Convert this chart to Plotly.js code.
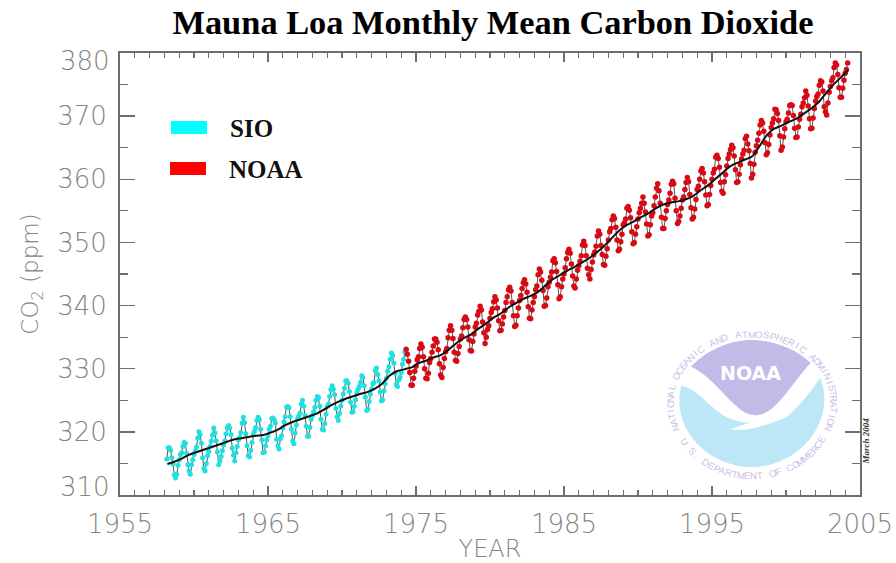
<!DOCTYPE html>
<html><head><meta charset="utf-8">
<script src="https://cdn.plot.ly/plotly-3.0.1.min.js"></script>
<style>html,body{margin:0;padding:0;background:#fff}</style></head>
<body><div id="chart" style="width:896px;height:563px"></div>
<script>
// Monthly mean CO2 (ppm)
const sioStart = 1958 + 2/12;   // March 1958
const sioCo2 = [315.7,317.5,317.5,317.1,315.9,314.9,313.2,312.7,313.3,314.7,
315.6,316.4,316.7,317.7,318.3,318.2,316.6,314.8,313.8,313.3,314.8,315.6,
316.4,317.0,317.6,319.0,320.0,319.6,318.2,315.9,314.2,313.8,315.0,316.2,
316.9,317.7,318.5,319.5,320.6,319.8,318.6,316.8,314.8,315.4,316.1,317.0,
317.9,318.6,319.7,320.6,321.0,320.6,319.6,317.4,316.3,315.4,316.7,317.7,
318.7,319.1,319.9,321.4,322.3,321.5,319.7,317.8,316.2,316.0,317.1,318.3,
319.6,320.1,320.7,321.8,322.3,321.9,320.4,318.7,316.7,316.8,317.8,318.7,
319.4,320.4,320.9,322.1,322.2,321.9,321.4,318.8,317.8,317.3,318.9,319.4,
320.6,321.6,322.4,323.9,324.0,323.8,322.4,320.4,318.6,318.1,319.8,321.1,
322.1,322.5,323.0,324.4,325.0,324.1,322.6,320.9,319.3,319.3,320.7,322.0,
322.6,323.2,323.9,325.0,325.6,325.4,324.1,322.0,320.4,320.3,321.3,322.8,
324.0,324.4,325.6,326.7,327.3,326.8,325.9,323.7,322.4,321.8,322.9,324.1,
325.0,326.0,326.9,328.1,328.1,327.7,326.4,324.7,323.1,323.2,324.0,325.1,
326.2,326.7,327.2,327.8,328.9,328.6,327.3,325.5,323.4,323.6,324.8,326.0,
326.8,327.6,327.8,329.7,330.1,329.1,328.1,326.3,324.9,325.1,326.5,327.6,
328.5,329.6,330.3,331.5,332.5,332.1,330.9,329.3,327.5,327.2,328.2,328.6,
329.4,330.7,331.5,332.6,332.9];
const noaaStart = 1974 + 4/12;  // May 1974
const noaaCo2 = [333.1,332.3,331.2,329.4,327.4,327.4,328.5,329.6,
330.4,331.4,331.9,333.2,333.9,333.4,331.9,330.0,328.5,328.4,329.3,331.0,
331.6,332.6,333.6,334.7,334.7,334.2,333.0,330.8,329.0,328.6,330.2,331.6,
332.7,333.2,334.9,336.1,336.8,336.1,334.8,332.6,331.3,331.2,332.4,333.5,
334.7,335.2,336.5,337.8,338.2,337.8,336.6,334.6,332.9,332.8,334.3,335.5,
336.6,337.2,338.5,339.1,339.9,339.3,337.4,335.7,334.0,335.0,336.2,336.8,
338.0,338.9,339.5,340.6,341.4,340.9,339.6,337.6,336.0,336.1,337.1,338.2,
339.2,340.5,341.4,342.5,342.9,342.3,340.5,338.4,336.7,336.9,338.4,339.6,
340.8,341.6,342.7,343.6,344.1,343.4,342.1,339.8,338.0,337.9,339.3,340.5,
341.4,342.5,343.1,344.9,345.8,345.3,344.0,342.4,339.9,340.0,341.2,343.0,
343.7,344.5,345.3,347.1,347.4,346.8,345.4,343.3,341.1,341.4,343.0,344.2,
345.0,346.0,347.4,348.4,348.9,348.3,346.6,344.7,343.1,342.8,344.2,345.6,
346.3,347.0,347.9,349.6,350.2,349.5,347.9,345.9,344.9,344.2,345.7,346.9,
348.0,348.5,349.4,351.0,351.8,351.3,349.5,348.1,346.5,346.4,347.8,349.0,
350.4,351.7,352.2,353.6,354.2,353.8,352.4,350.4,348.7,348.9,350.1,351.3,
352.8,353.1,353.7,355.4,355.7,355.1,353.9,351.7,349.8,350.0,351.3,352.5,
353.7,354.7,355.4,356.2,357.2,356.2,354.8,352.9,351.0,351.2,352.8,354.2,
354.7,355.8,357.2,358.6,359.3,358.2,356.2,354.0,352.2,352.2,353.8,355.0,
356.0,356.7,357.8,359.2,359.7,359.3,357.0,355.0,353.0,353.3,354.2,355.4,
356.7,357.2,358.4,359.5,360.3,359.6,357.6,355.5,353.7,354.0,355.3,356.8,
358.4,358.9,360.0,361.3,361.7,361.0,359.6,357.5,355.8,356.0,357.6,359.0,
360.0,361.0,361.6,363.5,363.8,363.3,361.9,359.5,358.1,357.8,359.6,360.7,
362.1,363.3,364.0,364.7,365.4,365.0,363.7,361.5,359.5,359.6,360.8,362.3,
363.2,364.0,364.6,366.4,366.8,365.6,364.5,362.5,360.2,360.8,362.4,364.3,
365.3,366.2,367.3,368.6,369.3,368.9,367.6,365.8,363.9,364.2,365.5,367.0,
368.2,368.9,369.6,371.1,371.0,370.4,369.3,366.9,364.6,365.1,366.7,368.0,
369.1,369.5,370.5,371.7,371.8,371.7,370.1,368.1,366.6,366.7,368.3,369.5,
370.3,371.5,372.1,372.9,374.0,373.3,371.6,369.6,368.0,368.1,369.7,371.2,
372.4,373.1,373.5,374.9,375.6,375.4,374.0,371.5,370.7,370.2,372.1,373.8,
374.7,375.6,376.1,377.7,378.4,378.1,376.6,374.5,373.0,373.0,374.4,375.7,
376.8,377.4,378.4];
// Seasonally adjusted trend, read every half year from 1958.2
const trendStart = 1958.2;
const trendCo2 = [314.9,315.3,315.8,316.4,316.8,317.2,317.6,318.0,318.4,318.8,319.0,319.2,319.4,319.5,
319.9,320.4,321.1,321.6,322.0,322.4,322.8,323.4,324.1,324.7,325.2,325.6,326.0,326.3,326.8,327.6,
328.9,329.6,329.9,330.2,330.9,331.3,331.8,332.2,333.0,334.0,334.8,335.4,336.3,337.1,338.0,338.7,
339.6,340.3,341.0,341.5,342.1,343.1,344.1,344.8,345.5,346.1,346.8,347.5,348.4,349.4,350.6,351.8,
352.7,353.3,354.0,354.6,355.4,356.0,356.3,356.5,356.8,357.3,358.2,359.0,360.0,361.0,362.0,362.6,
363.1,363.6,365.2,367.0,368.0,368.5,369.1,369.6,370.4,371.2,372.2,373.6,375.0,376.1,377.3];
const yTicks = [320,330,340,350,360,370];
const yEndLabels = [380,310];
const xTicks = [1955,1965,1975,1985,1995,2005];

const W=896,H=563,mL=120,mR=36,mT=53,mB=68;
const px=x=>(x-mL)/(W-mL-mR), py=y=>1-(y-mT)/(H-mT-mB);
const months=(s,a)=>a.map((_,i)=>s+i/12);
const gray='#858585', axisC='#6e6e6e';
const tickF={family:'DejaVu Sans Light, DejaVu Sans',size:26,color:gray,weight:200};

const traces=[
 {x:months(sioStart,sioCo2),y:sioCo2,name:'SIO',mode:'lines+markers',showlegend:false,
  line:{color:'#555',width:1},marker:{color:'#1fe0e0',size:5}},
 {x:months(noaaStart,noaaCo2),y:noaaCo2,name:'NOAA',mode:'lines+markers',showlegend:false,
  line:{color:'#555',width:1},marker:{color:'#d80a14',size:5.5}},
 {x:trendCo2.map((_,i)=>trendStart+i/2),y:trendCo2,name:'Trend',mode:'lines',showlegend:false,
  line:{color:'#111',width:2,shape:'spline',smoothing:0.8}}
];

// Logo geometry is expressed in pixels of the page
const zx=z=>640+z/3, zy=z=>320+z/3;
function P(pts){
  return pts.map(s=>{
    const c=s[0], n=s.slice(1); let o=[];
    for(let i=0;i<n.length;i+=2) o.push(px(zx(n[i]))+','+py(zy(n[i+1])));
    return c+o.join(' ');
  }).join(' ');
}
const lav=P([['M',153,140],['C',200,90,270,60,335,60],['C',400,60,465,85,512,128],
 ['C',470,175,440,225,400,262],['C',375,285,345,292,320,280],['C',270,255,220,170,153,140],['Z']]);
const blu=P([['M',124,197],['C',175,205,215,275,275,298],['C',300,308,325,310,340,304],
 ['L',272,327],['C',300,335,350,325,385,312],['C',405,305,425,298,440,291],['C',470,265,515,215,540,173],
 ['C',550,195,554,220,553,245],['C',548,350,450,441,335,441],['C',220,441,118,350,118,245],['C',118,225,120,210,124,197],['Z']]);

const shapes=[
 {type:'path',xref:'paper',yref:'paper',path:lav,fillcolor:'#c2bbe8',line:{width:0},layer:'below'},
 {type:'path',xref:'paper',yref:'paper',path:blu,fillcolor:'#bde6f6',line:{width:0},layer:'below'},
 {type:'rect',xref:'paper',yref:'paper',x0:px(171),x1:px(207),y0:py(134),y1:py(121),fillcolor:'#00ffff',line:{width:0}},
 {type:'rect',xref:'paper',yref:'paper',x0:px(170),x1:px(206),y0:py(175),y1:py(162),fillcolor:'#ff0000',line:{width:0}}
];
const noaaLogo={xref:'paper',yref:'paper',x:px(750),y:py(373),text:'NOAA',showarrow:false,
 font:{family:'DejaVu Sans',size:19,color:'#ffffff',weight:700},xanchor:'center',yanchor:'middle'};

const anns=[noaaLogo,
 {xref:'paper',yref:'paper',x:px(228),y:py(128),xanchor:'left',yanchor:'middle',text:'<b>SIO</b>',showarrow:false,font:{family:'Liberation Serif',size:25,color:'#111'}},
 {xref:'paper',yref:'paper',x:px(227),y:py(169),xanchor:'left',yanchor:'middle',text:'<b>NOAA</b>',showarrow:false,font:{family:'Liberation Serif',size:25,color:'#111'}},
 {xref:'paper',yref:'paper',x:px(872),y:py(467),textangle:-90,text:'<b><i>March 2004</i></b>',showarrow:false,font:{family:'Liberation Serif',size:9,color:'#333'}},
 {xref:'paper',yref:'y',x:0,y:yEndLabels[0],xanchor:'right',yanchor:'middle',xshift:-8,yshift:-8,text:String(yEndLabels[0]),showarrow:false,font:tickF},
 {xref:'paper',yref:'y',x:0,y:yEndLabels[1],xanchor:'right',yanchor:'middle',xshift:-8,yshift:8,text:String(yEndLabels[1]),showarrow:false,font:tickF}
];
function arc(txt,t0,t1,rx,ry,rot){
  const n=txt.length;
  [...txt].forEach((ch,i)=>{
    if(ch===' ')return;
    const t=(t0+(t1-t0)*i/(n-1))*Math.PI/180;
    anns.push({xref:'paper',yref:'paper',x:px(752+rx*Math.cos(t)),y:py(403-ry*Math.sin(t)),
      text:ch,showarrow:false,textangle:rot(t*180/Math.PI),xanchor:'center',yanchor:'middle',
      font:{family:'Liberation Sans',size:9.5,color:'#c6c1e6'}});
  });
}
arc('NATIONAL OCEANIC AND ATMOSPHERIC ADMINISTRATION',201,-21,82,69,t=>90-t);
arc('U.S. DEPARTMENT OF COMMERCE',212,330,80,73,t=>270-t);

const layout={
 width:W,height:H,margin:{l:mL,r:mR,t:mT,b:mB},paper_bgcolor:'#fff',plot_bgcolor:'rgba(0,0,0,0)',
 showlegend:false,
 title:{text:'<b>Mauna Loa Monthly Mean Carbon Dioxide</b>',x:493/W,xanchor:'center',y:1-22/H,yanchor:'middle',
  font:{family:'Liberation Serif',size:34.4,color:'#000'}},
 xaxis:{range:[1955,2005],tickvals:xTicks,ticktext:xTicks.map(String),ticks:'inside',ticklen:9,tickwidth:1.5,tickcolor:axisC,
  minor:{dtick:1,tick0:1955,ticks:'inside',ticklen:5,tickwidth:1.2,tickcolor:axisC,showgrid:false},
  showline:true,linecolor:axisC,linewidth:2,mirror:'allticks',showgrid:false,zeroline:false,tickfont:tickF,ticklabelstandoff:5,
  title:{text:'YEAR',font:{family:'DejaVu Sans Light, DejaVu Sans',size:24,color:gray,weight:200},standoff:13}},
 yaxis:{range:[310,380],tickvals:yTicks,ticktext:yTicks.map(String),ticks:'inside',ticklen:15,tickwidth:1.5,tickcolor:axisC,
  minor:{dtick:5,tick0:310,ticks:'inside',ticklen:8,tickwidth:1.2,tickcolor:axisC,showgrid:false},
  showline:true,linecolor:axisC,linewidth:2,mirror:'allticks',showgrid:false,zeroline:false,tickfont:tickF,ticklabelstandoff:6,
  title:{text:'CO<sub>2</sub> (ppm)',font:{family:'DejaVu Sans Light, DejaVu Sans',size:23,color:gray,weight:200},standoff:12}},
 shapes:shapes,annotations:anns
};
Plotly.newPlot('chart',traces,layout,{displayModeBar:false,staticPlot:true});
</script></body></html>
